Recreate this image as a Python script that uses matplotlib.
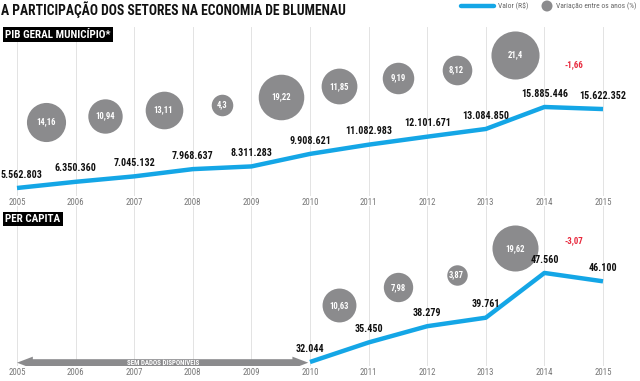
import numpy as np
import matplotlib
matplotlib.use("Agg")
import matplotlib.pyplot as plt
import matplotlib.transforms as mtransforms

plt.rcParams["font.family"] = ["Roboto Condensed", "DejaVu Sans"]

# ── Data ──────────────────────────────────────────────────────────────────────
years = [2005, 2006, 2007, 2008, 2009, 2010, 2011, 2012, 2013, 2014, 2015]
pib_total = [5562803, 6350360, 7045132, 7968637, 8311283, 9908621,
             11082983, 12101671, 13084850, 15885446, 15622352]
pib_total_labels = ["5.562.803", "6.350.360", "7.045.132", "7.968.637", "8.311.283",
                    "9.908.621", "11.082.983", "12.101.671", "13.084.850",
                    "15.885.446", "15.622.352"]
pib_total_var = [14.16, 10.94, 13.11, 4.3, 19.22, 11.85, 9.19, 8.12, 21.4, -1.66]

pc_years = [2010, 2011, 2012, 2013, 2014, 2015]
pib_pc = [32044, 35450, 38279, 39761, 47560, 46100]
pib_pc_labels = ["32.044", "35.450", "38.279", "39.761", "47.560", "46.100"]
pib_pc_var = [10.63, 7.98, 3.87, 19.62, -3.07]

BLUE = "#14a6e6"
GREY = "#8b8b8d"
RED = "#e8283c"

W, H = 640, 381
fig = plt.figure(figsize=(6.4, 3.81), dpi=100)


def px_axes(top, bottom):
    return fig.add_axes([0, (H - bottom) / H, 1, (bottom - top) / H])


def fmt(v):
    return f"{v:.2f}".rstrip("0").rstrip(".").replace(".", ",")


def setup(ax):
    ax.set_xlim(2005 - 17 / 58.6, 2015 + 37 / 58.6)
    ax.set_xticks(years)
    ax.set_xticklabels([str(y) for y in years], fontsize=6.3, color="#777777")
    ax.tick_params(axis="x", length=0, pad=1.2)
    ax.set_yticks([])
    ax.grid(axis="x", color="#e3e3e3", lw=0.7)
    for s in ax.spines.values():
        s.set_visible(False)
    ax.patch.set_alpha(0)


def panel(ax, xs, vals, labels, var, bub_off, neg_off):
    ax.plot(xs, vals, color=BLUE, lw=3.2, solid_capstyle="butt", zorder=3)
    for x, v, lab in zip(xs, vals, labels):
        dx = 3.5 if x == 2005 else 0
        ax.annotate(lab, (x, v), xytext=(dx, 6), textcoords="offset points",
                    ha="center", va="bottom", fontsize=7.2, fontweight="bold",
                    color="#111111", zorder=4)
    for i, pct in enumerate(var):
        bx = (xs[i] + xs[i + 1]) / 2
        by = (vals[i] + vals[i + 1]) / 2
        if pct > 0:
            tr = mtransforms.offset_copy(ax.transData, fig=fig, x=0, y=bub_off, units="dots")
            ax.scatter([bx], [by], s=56 * pct, color=GREY, transform=tr,
                       linewidths=0, zorder=2)
            ax.text(bx, by, fmt(pct), transform=tr, ha="center", va="center",
                    fontsize=6.2, fontweight="bold", color="white", zorder=3)
        else:
            tr = mtransforms.offset_copy(ax.transData, fig=fig, x=0, y=neg_off, units="dots")
            ax.text(bx, by, fmt(pct), transform=tr, ha="center", va="center",
                    fontsize=6.4, fontweight="bold", color=RED, zorder=3)


# ── Top panel: PIB total ──────────────────────────────────────────────────────
ax1 = px_axes(27, 196)
setup(ax1)
ax1.set_ylim(4.543e6, 26.08e6)
panel(ax1, years, pib_total, pib_total_labels, pib_total_var, 63, 43)

# ── Bottom panel: per capita ──────────────────────────────────────────────────
ax2 = px_axes(206, 366)
setup(ax2)
ax2.set_ylim(31347, 59222)
panel(ax2, pc_years, pib_pc, pib_pc_labels, pib_pc_var, 47, 36)

# no-data arrow 2005-2010
ay = pib_pc[0] - 120
mid = (years[0] + pc_years[0]) / 2
for end in (years[0], pc_years[0] - 0.03):
    ax2.arrow(mid, ay, end - mid, 0, width=1220, head_width=2100,
              head_length=0.27, length_includes_head=True,
              color=GREY, lw=0, zorder=2)
ax2.text(mid, ay, "SEM DADOS DISPONÍVEIS", ha="center", va="center",
         fontsize=5.0, fontweight="bold", color="white", zorder=3)

# ── Title, legend, panel tags ─────────────────────────────────────────────────
fig.text(1 / W, 1 - 10 / H, "A PARTICIPAÇÃO DOS SETORES NA ECONOMIA DE BLUMENAU",
         ha="left", va="center", fontsize=9.8, fontweight="bold", color="#111111")

fig.add_artist(matplotlib.lines.Line2D([461 / W, 494 / W], [1 - 6 / H, 1 - 6 / H],
                                       color=BLUE, lw=3.2, solid_capstyle="round"))
fig.text(498 / W, 1 - 6 / H, "Valor (R$)", ha="left", va="center",
         fontsize=5.5, color="#666666")
fig.add_artist(matplotlib.patches.Ellipse((547 / W, 1 - 6 / H), 11 / W, 11 / H,
                                          transform=fig.transFigure, color=GREY,
                                          linewidth=0))
fig.text(556 / W, 1 - 6 / H, "Variação entre os anos (%)", ha="left", va="center",
         fontsize=5.5, color="#666666")

for txt, yc in [("PIB GERAL MUNICÍPIO*", 34.5), ("PER CAPITA", 219)]:
    fig.text(5 / W, 1 - yc / H, txt, ha="left", va="center", fontsize=8,
             fontweight="bold", color="white", zorder=10,
             bbox=dict(boxstyle="square,pad=0.22", fc="black", ec="none"))

fig.savefig("out.png", dpi=100)
